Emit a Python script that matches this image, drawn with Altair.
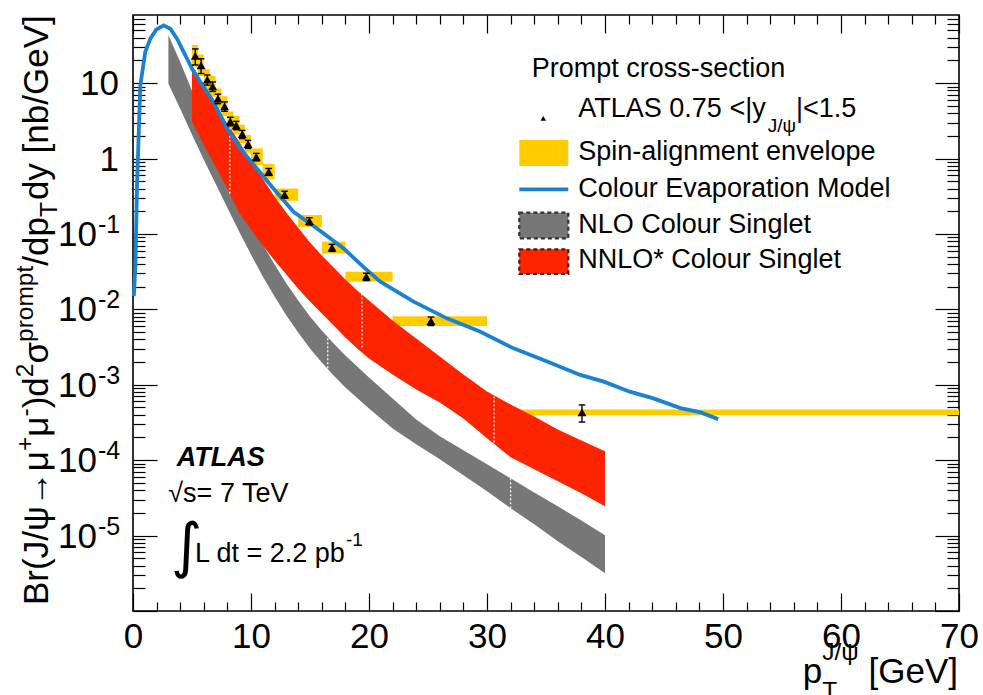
import altair as alt
import pandas as pd

# ---------------- ATLAS prompt J/psi, 0.75 < |y| < 1.5 ----------------
bin_lo = [5, 5.5, 6, 6.5, 7, 7.5, 8, 8.5, 9, 9.5, 10, 11, 12, 14, 16, 18, 22, 30]
bin_hi = [5.5, 6, 6.5, 7, 7.5, 8, 8.5, 9, 9.5, 10, 11, 12, 14, 16, 18, 22, 30, 70]
pt_mean = [5.28, 5.77, 6.30, 6.75, 7.20, 7.76, 8.25, 8.75, 9.26, 9.75, 10.45, 11.5,
           12.85, 14.95, 16.86, 19.77, 25.25, 38.05]
xsec = [22.9, 17.2, 11.1, 9.06, 6.23, 4.93, 3.12, 2.76, 2.10, 1.55, 1.05, 0.667,
        0.333, 0.148, 0.0657, 0.0271, 0.0070, 0.00043]
stat_err = [5.5, 3.8, 1.7, 1.3, 0.9, 0.7, 0.40, 0.35, 0.26, 0.19, 0.12, 0.07,
            0.035, 0.016, 0.007, 0.003, 0.0009, 0.00011]
spin_lo = [16.5, 12.4, 8.1, 6.6, 4.6, 3.65, 2.35, 2.08, 1.6, 1.19, 0.82, 0.53,
           0.275, 0.123, 0.055, 0.0232, 0.0060, 0.000395]
spin_hi = [32, 24, 15.3, 12.5, 8.5, 6.7, 4.2, 3.7, 2.8, 2.05, 1.36, 0.85,
           0.40, 0.178, 0.079, 0.0316, 0.0081, 0.00047]

# ---------------- Colour Evaporation Model ----------------
cem_pt = [0.07, 0.2, 0.34, 0.62, 1.04, 1.47, 1.97, 2.59, 3.16, 3.73, 4.15, 5.0, 5.7,
          6.83, 7.97, 9.09, 10.5, 11.9, 13.6, 15.6, 17.85, 19.5, 20.96, 23.78, 26.6,
          29.4, 32.25, 35.1, 37.9, 39.9, 42.1, 44.1, 46.4, 48.1, 49.6]
cem_xsec = [0.015, 0.037, 0.44, 9.35, 25.9, 38.9, 51, 58.3, 52.7, 38.9, 28.6, 15.6, 10.4,
            5.64, 2.50, 1.36, 0.737, 0.40, 0.197, 0.118, 0.0643, 0.0368, 0.0233, 0.01264,
            0.0076, 0.00507, 0.00304, 0.00203, 0.00135, 0.0011, 8.1e-4, 6.6e-4, 4.9e-4,
            4.3e-4, 3.5e-4]

# ---------------- NLO colour singlet band ----------------
nlo_pt = [3, 4, 5, 6, 7, 8, 9, 10, 11, 12, 13, 14, 15, 16, 17, 18, 20, 22, 24, 26,
          28, 30, 32, 34, 36, 38, 40]
nlo_hi = [43.6, 19.1, 7.91, 3.27, 1.39, 0.629, 0.293, 0.141, 0.0721, 0.0392, 0.0220,
          0.0131, 0.00803, 0.00524, 0.00352, 0.00244, 0.00125, 6.59e-4, 3.47e-4,
          2.07e-4, 1.35e-4, 8.8e-5, 5.74e-5, 3.74e-5, 2.44e-5, 1.59e-5, 1.01e-5]
nlo_lo = [9.79, 4.57, 2.07, 0.964, 0.464, 0.223, 0.107, 0.0532, 0.0272, 0.0148, 0.00828,
          0.00493, 0.00303, 0.00198, 0.00133, 9.2e-4, 4.85e-4, 2.64e-4, 1.62e-4,
          1.03e-4, 6.3e-5, 3.87e-5, 2.30e-5, 1.41e-5, 8.4e-6, 5.2e-6, 3.17e-6]

# ---------------- NNLO* colour singlet band ----------------
nnlo_pt = [5, 6, 7, 8, 9, 10, 11, 12, 13, 14, 15, 16, 17, 18, 19, 20, 22, 24, 26, 28,
           30, 32, 34, 36, 38, 40]
nnlo_hi = [16.4, 9.21, 5.16, 2.89, 1.67, 0.935, 0.541, 0.312, 0.191, 0.121, 0.0767,
           0.0516, 0.0358, 0.0248, 0.0178, 0.0131, 0.00711, 0.00410, 0.00237, 0.00137,
           8.15e-4, 5.48e-4, 3.80e-4, 2.56e-4, 1.83e-4, 1.31e-4]
nnlo_lo = [3.07, 1.52, 0.778, 0.398, 0.191, 0.114, 0.0700, 0.0443, 0.0289, 0.0188,
           0.0127, 0.00879, 0.00610, 0.00423, 0.00303, 0.00223, 0.00137, 8.67e-4,
           5.83e-4, 3.58e-4, 1.95e-4, 1.09e-4, 7.57e-5, 5.25e-5, 3.64e-5, 2.45e-5]

# joins between the separately computed pieces of the theory bands
nnlo_join_pt = [8.2, 19.4, 30.6]
nnlo_join_lo = [0.342, 0.00312, 1.52e-4]
nnlo_join_hi = [2.64, 0.0183, 7.2e-4]
nlo_join_pt = [16.5, 32.0]
nlo_join_lo = [0.00166, 2.3e-5]
nlo_join_hi = [0.00436, 5.74e-5]

# axis labels
y_decades = [10, 1, 0.1, 0.01, 0.001, 1e-4, 1e-5]
y_base = ["10", "1", "10", "10", "10", "10", "10"]
y_exp = ["", "", "-1", "-2", "-3", "-4", "-5"]
x_labels = [0, 10, 20, 30, 40, 50, 60, 70]

# ---------------- style ----------------
FONT = "Liberation Sans"
W_PLOT, H_PLOT = 826, 596
YELLOW = "#ffcc00"
RED = "#ff2400"
GREY = "#777777"
BLUE = "#1b82d2"
TICK_FS = 35

xs = alt.Scale(domain=[0, 70], nice=False, zero=False)
ys = alt.Scale(type="log", domain=[1e-6, 80], nice=False)


def X(f):
    return alt.X(f, type="quantitative", scale=xs, axis=None)


def Y(f):
    return alt.Y(f, type="quantitative", scale=ys, axis=None)


meas = pd.DataFrame(dict(lo=bin_lo, hi=bin_hi, pt=pt_mean, v=xsec, err=stat_err,
                         slo=spin_lo, shi=spin_hi))
meas["elo"] = meas["v"] - meas["err"]
meas["ehi"] = meas["v"] + meas["err"]
meas["clo"] = meas["pt"] - 0.28
meas["chi"] = meas["pt"] + 0.28
caps = pd.concat([meas.assign(cy=meas["elo"]), meas.assign(cy=meas["ehi"])])
cem = pd.DataFrame(dict(pt=cem_pt, v=cem_xsec))
nlo = pd.DataFrame(dict(pt=nlo_pt, lo=nlo_lo, hi=nlo_hi))
nnlo = pd.DataFrame(dict(pt=nnlo_pt, lo=nnlo_lo, hi=nnlo_hi))
joins = pd.DataFrame(dict(pt=nnlo_join_pt + nlo_join_pt,
                          lo=nnlo_join_lo + nlo_join_lo,
                          hi=nnlo_join_hi + nlo_join_hi))

spin = alt.Chart(meas).mark_rect(color=YELLOW).encode(
    x=X("lo"), x2=alt.X2("hi"), y=Y("slo"), y2=alt.Y2("shi"))
nlo_band = alt.Chart(nlo).mark_area(color=GREY, opacity=1).encode(
    x=X("pt"), y=Y("lo"), y2=alt.Y2("hi"))
nnlo_band = alt.Chart(nnlo).mark_area(color=RED, opacity=1).encode(
    x=X("pt"), y=Y("lo"), y2=alt.Y2("hi"))
join_lines = alt.Chart(joins).mark_rule(color="white", strokeWidth=1.5,
                                        strokeDash=[2, 2], opacity=0.85).encode(
    x=X("pt"), y=Y("lo"), y2=alt.Y2("hi"))
cem_line = alt.Chart(cem).mark_line(color=BLUE, strokeWidth=3.8).encode(
    x=X("pt"), y=Y("v"))
ebars = alt.Chart(meas).mark_rule(color="black", strokeWidth=1.4).encode(
    x=X("pt"), y=Y("elo"), y2=alt.Y2("ehi"))
ecaps = alt.Chart(caps).mark_rule(color="black", strokeWidth=1.4).encode(
    x=X("clo"), x2=alt.X2("chi"), y=Y("cy"))
points = alt.Chart(meas).mark_point(shape="triangle-up", filled=True, color="black",
                                    size=80, opacity=1).encode(x=X("pt"), y=Y("v"))

# ---------------- frame ticks (ROOT style, pointing inwards) ----------------
one = alt.Data(values=[{"ax": 1.0, "ay": 1.0}])
x_major = [10 * i for i in range(8)]
x_minor = [v for v in range(2, 70, 2) if v % 10]
y_major = [10.0 ** k for k in range(-6, 2)]
y_minor = [m * 10.0 ** k for k in range(-6, 2) for m in range(2, 10) if m * 10.0 ** k < 80]


def tick_layer(xvals, xlen, xorient, yvals, ylen, yorient):
    common = dict(labels=False, domain=False, grid=False, title=None,
                  tickColor="black", tickWidth=1.2)
    return alt.Chart(one).mark_point(opacity=0).encode(
        x=alt.X("ax:Q", scale=xs, axis=alt.Axis(orient=xorient, values=xvals,
                                                tickSize=xlen, offset=-xlen, **common)),
        y=alt.Y("ay:Q", scale=ys, axis=alt.Axis(orient=yorient, values=yvals,
                                                tickSize=ylen, offset=-ylen, **common)))


ticks = [
    tick_layer(x_major, 18, "bottom", y_major, 24, "left"),
    tick_layer(x_minor, 9, "bottom", y_minor, 12, "left"),
    tick_layer(x_major, 18, "top", y_major, 24, "right"),
    tick_layer(x_minor, 9, "top", y_minor, 12, "right"),
]

x_axis_labels = alt.Chart(one).mark_point(opacity=0).encode(
    x=alt.X("ax:Q", scale=xs, axis=alt.Axis(
        orient="bottom", values=x_labels, ticks=False, domain=False, grid=False,
        labelFont=FONT, labelFontSize=TICK_FS, labelColor="black", labelPadding=8,
        labelOverlap=False, labelFlush=False, format="d", title=None)),
    y=alt.Y("ay:Q", scale=ys, axis=None))

ylab = pd.DataFrame(dict(v=y_decades, base=y_base, exp=y_exp))
ylab_plain = alt.Chart(ylab[ylab["exp"] == ""]).mark_text(
    align="right", baseline="alphabetic", font=FONT, fontSize=TICK_FS, color="black", dy=12
).encode(y=Y("v"), x=alt.value(-14), text="base:N")
ylab_base = alt.Chart(ylab[ylab["exp"] != ""]).mark_text(
    align="right", baseline="alphabetic", font=FONT, fontSize=TICK_FS, color="black", dy=12
).encode(y=Y("v"), x=alt.value(-36), text="base:N")
ylab_exp = alt.Chart(ylab[ylab["exp"] != ""]).mark_text(
    align="left", baseline="alphabetic", font=FONT, fontSize=25, color="black", dy=-1
).encode(y=Y("v"), x=alt.value(-35), text="exp:N")

# ---------------- free text ----------------
ADV = {' ': 278, '(': 333, ')': 333, '/': 278, '[': 278, ']': 278, '+': 584, '-': 333,
       '.': 278, '*': 389, '=': 584, '<': 584, '|': 260, 'A': 667, 'B': 667, 'G': 778,
       'J': 500, 'L': 556, 'S': 667, 'T': 611, 'V': 667, 'b': 556, 'd': 556, 'e': 556,
       'm': 833, 'n': 556, 'o': 556, 'p': 556, 'r': 333, 't': 278, 'y': 500,
       'ψ': 713, 'μ': 577, 'σ': 617, '→': 1000}


def advance(s, size):
    return sum(ADV.get(c, 556) for c in s) * size / 1000.0


def txt(s, x, y, size=27, **kw):
    props = dict(align="left", baseline="alphabetic", font=FONT, fontSize=size,
                 color="black")
    props.update(kw)
    return alt.Chart(one).mark_text(**props).encode(
        x=alt.value(x), y=alt.value(y), text=alt.value(s))


texts = []

# vertical axis title, laid out piece by piece (bottom to top)
ytitle = [("Br(J/ψ→μ", "m"), ("+", "u"), ("μ", "m"), ("-", "u"), (")d", "m"),
          ("2", "u"), ("σ", "m"), ("prompt", "u"), ("/dp", "m"), ("T", "d"),
          ("dy [nb/GeV]", "m")]
yy = 590.0
base_x = -85.0
for s, kind in ytitle:
    size = 35 if kind == "m" else 24.5
    shift = {"m": 0.0, "u": -15.0, "d": 9.0}[kind]
    texts.append(txt(s, base_x + shift, yy, size, angle=270))
    yy -= advance(s, size) + (2 if kind == "d" else 0)

# horizontal axis title
texts += [
    txt("p", 669.8, 668, 35),
    txt("J/ψ", 689.3, 645, 24.5),
    txt("T", 689.3, 684, 24.5),
    txt("[GeV]", 735.5, 668, 35),
]

# experiment label
texts += [
    txt("ATLAS", 43.7, 451, 27, fontWeight="bold", fontStyle="italic"),
    txt("√s= 7 TeV", 35.3, 486.7, 27),
    txt("∫", 38, 551, 60, font="DejaVu Sans", fontWeight="normal"),
    txt("L dt = 2.2 pb", 62, 546.7, 27),
    txt("-1", 213, 531, 19),
]

# legend
LX0, LX1 = 386.3, 435.3
legend = [
    txt("Prompt cross-section", 398.7, 61.7, 27),
    alt.Chart(one).mark_point(shape="triangle-up", filled=True, color="black",
                              size=30, opacity=1).encode(x=alt.value(410.3), y=alt.value(103.3)),
    txt("ATLAS 0.75 <|y", 445.3, 101.7, 27),
    txt("J/ψ", 445.3 + advance("ATLAS 0.75 <|y", 27), 116.7, 19),
    txt("|<1.5", 445.3 + advance("ATLAS 0.75 <|y", 27) + advance("J/ψ", 19), 101.7, 27),
    alt.Chart(one).mark_rect(color=YELLOW).encode(
        x=alt.value(LX0), x2=alt.value(LX1), y=alt.value(125), y2=alt.value(151)),
    txt("Spin-alignment envelope", 445.3, 145, 27),
    alt.Chart(one).mark_rule(color=BLUE, strokeWidth=3.8).encode(
        x=alt.value(LX0), x2=alt.value(LX1), y=alt.value(174.3)),
    txt("Colour Evaporation Model", 445.3, 181.7, 27),
    alt.Chart(one).mark_rect(fill=GREY, stroke="#333333", strokeWidth=2.2,
                             strokeDash=[4, 3]).encode(
        x=alt.value(LX0), x2=alt.value(LX1), y=alt.value(197.7), y2=alt.value(223.3)),
    txt("NLO Colour Singlet", 445.3, 217.7, 27),
    alt.Chart(one).mark_rect(fill=RED, stroke="#5a1408", strokeWidth=2.2,
                             strokeDash=[4, 3]).encode(
        x=alt.value(LX0), x2=alt.value(LX1), y=alt.value(234.3), y2=alt.value(259)),
    txt("NNLO* Colour Singlet", 445.3, 253.3, 27),
]

chart = alt.layer(
    spin, nlo_band, nnlo_band, join_lines, cem_line, ebars, ecaps, points,
    *ticks, x_axis_labels, ylab_plain, ylab_base, ylab_exp, *texts, *legend
).resolve_axis(
    x="independent", y="independent"
).properties(
    width=W_PLOT, height=H_PLOT,
    autosize=alt.AutoSizeParams(type="none"),
    padding={"left": 133, "top": 15, "right": 24, "bottom": 84},
    background="white",
).configure_view(
    stroke="black", strokeWidth=1.6
)

chart.save("out.html", embed_options={"renderer": "svg", "actions": False})
